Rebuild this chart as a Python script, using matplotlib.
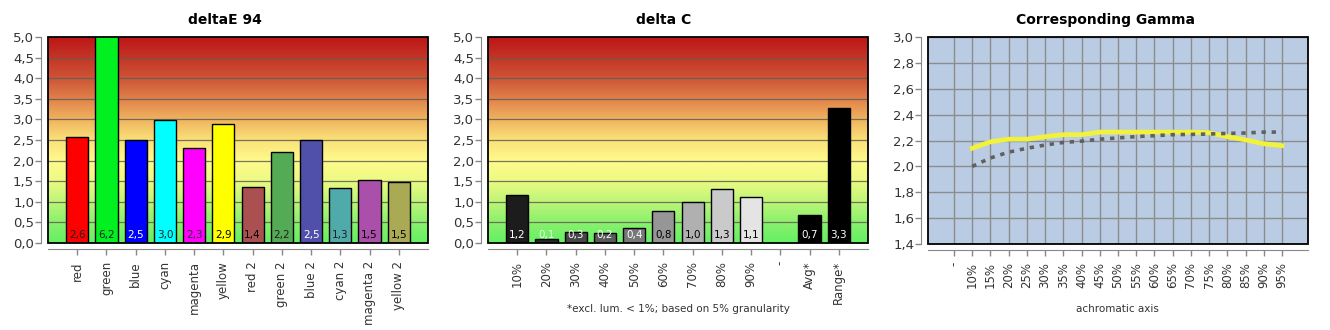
import numpy as np
import matplotlib
matplotlib.use("Agg")
import matplotlib.pyplot as plt
from matplotlib.colors import LinearSegmentedColormap
from matplotlib.patches import Rectangle

# deltaE 94 panel
de_labels = ['red', 'green', 'blue', 'cyan', 'magenta', 'yellow',
             'red 2', 'green 2', 'blue 2', 'cyan 2', 'magenta 2', 'yellow 2']
de_values = [2.58, 6.2, 2.49, 2.98, 2.30, 2.88, 1.35, 2.20, 2.49, 1.33, 1.54, 1.49]
de_colors = ['#ff0000', '#00f020', '#0000ff', '#00ffff', '#ff00ff', '#ffff00',
             '#aa5050', '#55aa55', '#5050aa', '#50aaaa', '#aa50aa', '#aaaa55']
de_textcol = ['#202020', '#202020', 'white', '#202020', '#303030', 'black',
              'black', '#202020', 'white', '#202020', 'black', 'black']

# delta C panel
dc_labels = ['10%', '20%', '30%', '40%', '50%', '60%', '70%', '80%', '90%', '-', 'Avg*', 'Range*']
dc_values = [1.17, 0.10, 0.27, 0.24, 0.36, 0.78, 1.00, 1.30, 1.12, np.nan, 0.68, 3.27]
dc_colors = ['#1c1c1c', '#2a2a2a', '#484848', '#5a5a5a', '#787878', '#969696',
             '#b0b0b0', '#cacaca', '#e4e4e4', 'white', '#000000', '#000000']
dc_textcol = ['white', '#e8ffe0', 'white', 'white', 'white', 'black',
              'black', 'black', 'black', 'black', 'white', 'white']

# gamma panel
gm_labels = ['-', '10%', '15%', '20%', '25%', '30%', '35%', '40%', '45%', '50%',
             '55%', '60%', '65%', '70%', '75%', '80%', '85%', '90%', '95%']
gm_yellow = [np.nan, 2.14, 2.19, 2.21, 2.21, 2.23, 2.245, 2.245, 2.265, 2.265,
             2.265, 2.265, 2.265, 2.265, 2.26, 2.23, 2.205, 2.175, 2.16]
gm_gray = [np.nan, 2.00, 2.065, 2.11, 2.14, 2.165, 2.185, 2.195, 2.21, 2.22,
           2.23, 2.237, 2.245, 2.247, 2.25, 2.255, 2.258, 2.265, 2.265]

plt.rcParams['font.family'] = ['DejaVu Sans']

grad = LinearSegmentedColormap.from_list('bg', [
    (0.00, (100/255, 240/255, 100/255)),
    (0.10, (140/255, 240/255, 110/255)),
    (0.20, (190/255, 245/255, 120/255)),
    (0.30, (235/255, 250/255, 130/255)),
    (0.40, (255/255, 250/255, 140/255)),
    (0.50, (250/255, 225/255, 120/255)),
    (0.60, (240/255, 180/255, 95/255)),
    (0.70, (225/255, 130/255, 75/255)),
    (0.80, (205/255, 85/255, 55/255)),
    (1.00, (188/255, 22/255, 22/255))])

fig = plt.figure(figsize=(13.3, 3.3), dpi=100)


def style_axes(ax):
    for s in ['top', 'right']:
        ax.spines[s].set_visible(False)
    ax.spines['left'].set_position(('outward', 5))
    ax.spines['bottom'].set_position(('outward', 4))
    ax.spines['left'].set_color('#888888')
    ax.spines['bottom'].set_color('#888888')
    ax.tick_params(axis='both', colors='#888888', length=4, width=1)
    ax.tick_params(axis='y', labelcolor='#333333', labelsize=9.5, pad=1)
    ax.tick_params(axis='x', labelcolor='#333333', labelsize=8.5, labelrotation=90, pad=5)
    ax.add_patch(Rectangle((0, 0), 1, 1, transform=ax.transAxes, fill=False,
                           edgecolor='black', lw=1.3, zorder=10, clip_on=False))


def comma(v, nd):
    return ('%.' + str(nd) + 'f') % v


def bar_panel(rect, labels, values, colors, textcol):
    ax = fig.add_axes(rect)
    ax.imshow(np.linspace(0, 1, 256).reshape(-1, 1), cmap=grad, origin='lower',
              extent=(-1, 12, 0, 5), aspect='auto', zorder=0)
    ax.set_xlim(-1, 12)
    ax.set_ylim(0, 5)
    yt = np.arange(0, 5.01, 0.5)
    ax.set_yticks(yt)
    ax.set_yticklabels([comma(v, 1).replace('.', ',') for v in yt])
    for v in yt[1:-1]:
        ax.axhline(v, color='#5f5f55', lw=0.9, alpha=0.85, zorder=1)
    x = np.arange(len(labels))
    ax.bar(x, values, width=0.76, color=colors, edgecolor='black', lw=1.0, zorder=2)
    for xi, v, tc in zip(x, values, textcol):
        if np.isnan(v):
            continue
        ax.text(xi, 0.08, comma(v, 1).replace('.', ','), ha='center',
                va='bottom', fontsize=7.5, color=tc, zorder=3)
    ax.set_xticks(x)
    ax.set_xticklabels(labels)
    style_axes(ax)
    return ax


bar_panel([48/1330, 1 - 243/330, 380/1330, 206/330], de_labels, de_values, de_colors, de_textcol)
bar_panel([488/1330, 1 - 243/330, 380/1330, 206/330], dc_labels, dc_values, dc_colors, dc_textcol)

ax3 = fig.add_axes([928/1330, 1 - 244/330, 380/1330, 207/330])
ax3.set_facecolor('#b9cce3')
xg = np.arange(len(gm_labels))
ax3.set_xlim(-1.43, 19.43)
ax3.set_ylim(1.4, 3.0)
yt3 = np.arange(1.4, 3.01, 0.2)
ax3.set_yticks(yt3)
ax3.set_yticklabels([comma(v, 1).replace('.', ',') for v in yt3])
ax3.set_xticks(xg)
ax3.set_xticklabels(gm_labels)
ax3.grid(True, color='#8c8c8c', lw=1.0)
ax3.set_axisbelow(True)
ax3.plot(xg, gm_yellow, color='#f2f23c', lw=3.4, zorder=3)
ax3.plot(xg, gm_gray, color='#606060', lw=2.6, ls=(0, (1.2, 1.6)), zorder=4)
style_axes(ax3)

fig.text(225/1330, 1 - 20/330, 'deltaE 94', ha='center', va='center', fontsize=10, weight='bold')
fig.text(664/1330, 1 - 20/330, 'delta C', ha='center', va='center', fontsize=10, weight='bold')
fig.text(1105/1330, 1 - 20/330, 'Corresponding Gamma', ha='center', va='center', fontsize=10, weight='bold')
fig.text(678/1330, 1 - 309/330, '*excl. lum. < 1%; based on 5% granularity', ha='center',
         va='center', fontsize=7.5, color='#333333')
fig.text(1117/1330, 1 - 309/330, 'achromatic axis', ha='center', va='center', fontsize=7.5,
         color='#333333')

fig.savefig('out.png', dpi=100)
